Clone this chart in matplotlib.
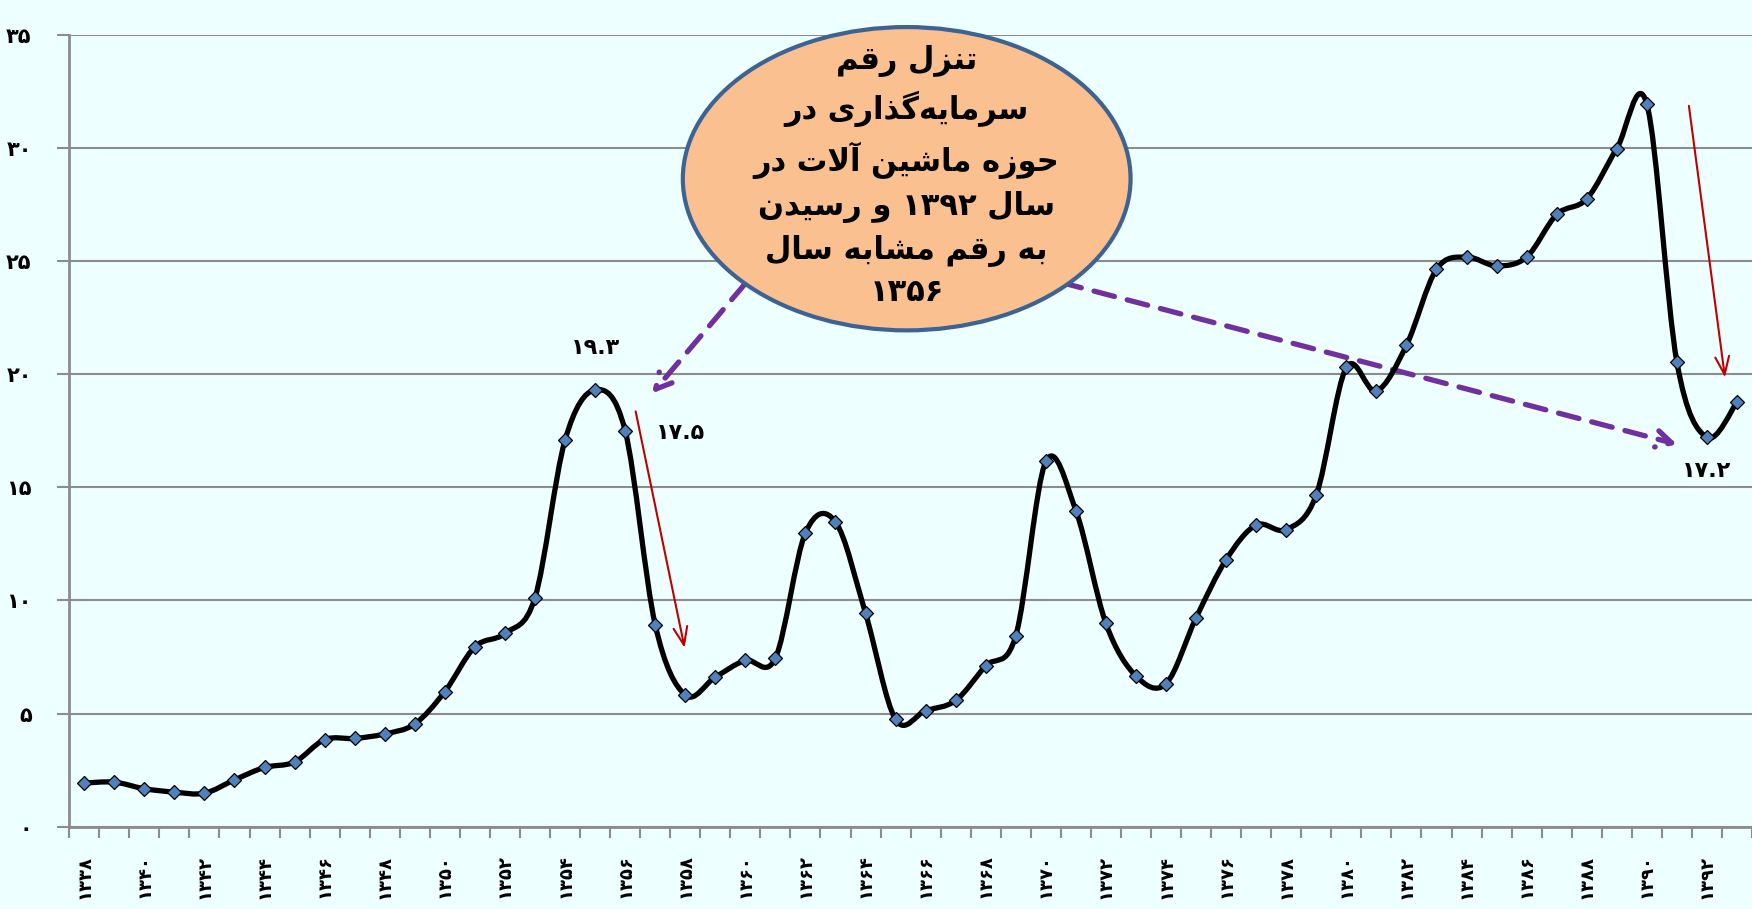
import matplotlib
matplotlib.use("Agg")
from matplotlib import pyplot as plt
from matplotlib.patches import Ellipse, PathPatch
from matplotlib.path import Path
import numpy as np

# ------------------------------------------------------------------------ DATA
years = list(range(1338, 1394))
values = [1.93, 1.97, 1.68, 1.53, 1.48, 2.07, 2.62, 2.86, 3.85, 3.90,
          4.10, 4.54, 5.97, 7.95, 8.54, 10.12, 17.08, 19.3, 17.5, 8.93,
          5.82, 6.61, 7.35, 7.45, 12.98, 13.47, 9.43, 4.74, 5.13, 5.58,
          7.11, 8.44, 16.14, 13.97, 8.98, 6.66, 6.32, 9.23, 11.80, 13.33,
          13.13, 14.66, 20.29, 19.25, 21.27, 24.63, 25.17, 24.78, 25.17, 27.05,
          27.74, 29.96, 31.93, 20.53, 17.2, 18.76]
y_ticks = [0, 5, 10, 15, 20, 25, 30, 35]
x_label_years = list(range(1338, 1393, 2))
labelled = {1355: "19.3", 1356: "17.5", 1392: "17.2"}
note_lines = ["تنزل رقم",
              "سرمایه\u200cگذاری در",
              "حوزه ماشین آلات در",
              "سال ۱۳۹۲ و رسیدن",
              "به رقم مشابه سال",
              "۱۳۵۶"]

# ------------------------------------------------------------------------ TEXT HELPERS
FA_DIGITS = str.maketrans("0123456789", "۰۱۲۳۴۵۶۷۸۹")


def fa(num):
    return str(num).translate(FA_DIGITS)


# isolated, final, initial, medial
FORMS = {
    "ا": ("\uFE8D", "\uFE8E", None, None),
    "آ": ("\uFE81", "\uFE82", None, None),
    "د": ("\uFEA9", "\uFEAA", None, None),
    "ذ": ("\uFEAB", "\uFEAC", None, None),
    "ر": ("\uFEAD", "\uFEAE", None, None),
    "ز": ("\uFEAF", "\uFEB0", None, None),
    "و": ("\uFEED", "\uFEEE", None, None),
    "ب": ("\uFE8F", "\uFE90", "\uFE91", "\uFE92"),
    "ت": ("\uFE95", "\uFE96", "\uFE97", "\uFE98"),
    "ح": ("\uFEA1", "\uFEA2", "\uFEA3", "\uFEA4"),
    "س": ("\uFEB1", "\uFEB2", "\uFEB3", "\uFEB4"),
    "ش": ("\uFEB5", "\uFEB6", "\uFEB7", "\uFEB8"),
    "ق": ("\uFED5", "\uFED6", "\uFED7", "\uFED8"),
    "ل": ("\uFEDD", "\uFEDE", "\uFEDF", "\uFEE0"),
    "م": ("\uFEE1", "\uFEE2", "\uFEE3", "\uFEE4"),
    "ن": ("\uFEE5", "\uFEE6", "\uFEE7", "\uFEE8"),
    "ه": ("\uFEE9", "\uFEEA", "\uFEEB", "\uFEEC"),
    "ی": ("\uFBFC", "\uFBFD", "\uFBFE", "\uFBFF"),
    "گ": ("\uFB92", "\uFB93", "\uFB94", "\uFB95"),
}
LAM_ALEF = {"ا": ("\uFEFB", "\uFEFC"), "آ": ("\uFEF5", "\uFEF6")}


def joins_forward(ch):
    return ch in FORMS and FORMS[ch][2] is not None


def shape(text):
    out = []
    i = 0
    while i < len(text):
        c = text[i]
        prev = text[i - 1] if i > 0 else ""
        nxt = text[i + 1] if i + 1 < len(text) else ""
        if c not in FORMS:
            if c != "\u200c":
                out.append(c)
            i += 1
            continue
        p = joins_forward(prev)
        if c == "ل" and nxt in LAM_ALEF:
            out.append(LAM_ALEF[nxt][1 if p else 0])
            i += 2
            continue
        n = joins_forward(c) and nxt in FORMS
        f = FORMS[c]
        out.append(f[3] if p and n else f[1] if p else f[2] if n else f[0])
        i += 1
    # visual order: reverse, keep digit runs left-to-right
    runs, cur, cur_digit = [], "", None
    for ch in out:
        d = ch in "۰۱۲۳۴۵۶۷۸۹."
        if cur and d != cur_digit:
            runs.append((cur, cur_digit))
            cur = ""
        cur += ch
        cur_digit = d
    if cur:
        runs.append((cur, cur_digit))
    return "".join(r if d else r[::-1] for r, d in runs[::-1])


# ------------------------------------------------------------------------ PLOT
plt.rcParams["font.family"] = ["DejaVu Sans"]
plt.rcParams["font.weight"] = "bold"
bg = "#EEFFFF"

fig = plt.figure(figsize=(17.52, 9.09), dpi=100, facecolor=bg)
ax = fig.add_axes([0.0395, 0.0905, 0.9605, 0.8715], facecolor=bg)

# smoothed line (excel-style bezier through the points)
pts = np.column_stack([years, values]).astype(float)
verts, codes = [pts[0]], [Path.MOVETO]
for i in range(len(pts) - 1):
    p0 = pts[i - 1] if i > 0 else pts[i]
    p1, p2 = pts[i], pts[i + 1]
    p3 = pts[i + 2] if i + 2 < len(pts) else pts[i + 1]
    verts += [p1 + (p2 - p0) / 6, p2 - (p3 - p1) / 6, p2]
    codes += [Path.CURVE4] * 3
ax.add_patch(PathPatch(Path(verts, codes), fill=False, edgecolor="black",
                       lw=3.8, zorder=3, capstyle="round", joinstyle="round"))
ax.plot(years, values, ls="none", marker="D", ms=7.5, mfc="#4F81BD",
        mec="black", mew=0.9, zorder=4)

ax.set_xlim(1337.5, 1393.5)
ax.set_ylim(0, 35)
ax.set_yticks(y_ticks)
ax.set_yticklabels([fa(v) for v in y_ticks], fontsize=15, fontweight="bold")
ax.set_xticks(x_label_years)
ax.set_xticklabels([fa(v) for v in x_label_years], rotation=90, fontsize=13,
                   fontweight="bold", va="top")
ax.set_xticks(np.arange(1337.5, 1394, 1), minor=True)
ax.tick_params(axis="x", which="major", length=0, pad=20)
ax.tick_params(axis="x", which="minor", length=8, width=1.5, color="#8C8C8C")
ax.tick_params(axis="y", length=9, width=1.5, color="#8C8C8C", pad=18)
ax.grid(axis="y", color="#8C8C8C", lw=1.5, zorder=0)
ax.set_axisbelow(True)
for s in ["top", "right"]:
    ax.spines[s].set_visible(False)
for s in ["left", "bottom"]:
    ax.spines[s].set_color("#8C8C8C")
    ax.spines[s].set_linewidth(2)

# value labels
offsets = {1355: (0, 30), 1356: (40, -2), 1392: (0, -24)}
for yr, txt in labelled.items():
    ax.annotate(fa(txt), (yr, values[years.index(yr)]), xytext=offsets[yr],
                textcoords="offset points", ha="center", va="center",
                fontsize=16, fontweight="bold")

# arrows
purple = dict(arrowstyle="->,head_length=1.1,head_width=0.6", color="#7030A0",
              lw=3.8, ls=(0, (4, 2.5)), shrinkA=0, shrinkB=0)
ax.annotate("", xy=(1356.9, 19.15), xytext=(1360.0, 24.0), arrowprops=purple, zorder=2)
ax.annotate("", xy=(1391.0, 16.9), xytext=(1370.5, 24.05), arrowprops=purple, zorder=2)
red = dict(arrowstyle="->,head_length=1.3,head_width=0.5", color="#C00000",
           lw=1.5, shrinkA=0, shrinkB=0)
ax.annotate("", xy=(1357.98, 7.9), xytext=(1356.35, 18.35), arrowprops=red, zorder=5)
ax.annotate("", xy=(1392.6, 19.85), xytext=(1391.4, 31.85), arrowprops=red, zorder=5)

# note bubble
ax.add_patch(Ellipse((1365.37, 28.63), 14.9, 13.4, facecolor="#FAC090",
                     edgecolor="#3C6394", lw=3, zorder=6, clip_on=False))
ax.text(1365.37, 28.75, "\n".join(shape(l) for l in note_lines), ha="center",
        va="center", fontsize=22, fontweight="bold", linespacing=1.5, zorder=7)

fig.savefig("out.png", dpi=100, facecolor=bg)
